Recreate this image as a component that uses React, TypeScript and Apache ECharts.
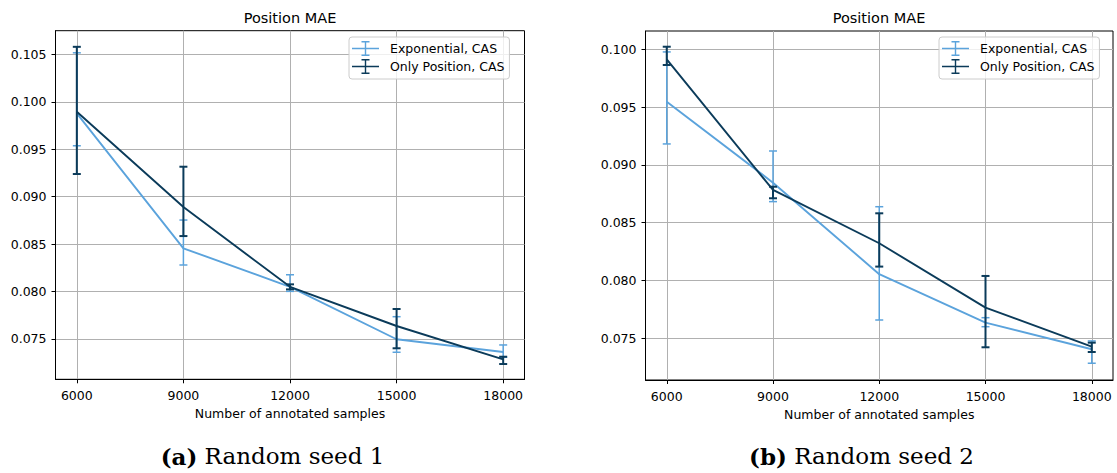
import React, { useEffect, useRef } from "react";
import * as echarts from "echarts";

const xSamples = [6000, 9000, 12000, 15000, 18000];
const yTicks1 = [0.075, 0.08, 0.085, 0.09, 0.095, 0.1, 0.105];
const yTicks2 = [0.075, 0.08, 0.085, 0.09, 0.095, 0.1];

const seriesNames = ["Exponential, CAS", "Only Position, CAS"];

// Random seed 1
const expMean1 = [0.09878, 0.08456, 0.0805, 0.07497, 0.07363];
const expLow1 = [0.09537, 0.0828, 0.08002, 0.0736, 0.07307];
const expHigh1 = [0.10517, 0.08754, 0.08177, 0.07735, 0.07437];
const posMean1 = [0.09895, 0.08891, 0.0805, 0.07637, 0.07286];
const posLow1 = [0.09239, 0.08585, 0.08023, 0.07402, 0.07236];
const posHigh1 = [0.1058, 0.09316, 0.08076, 0.07816, 0.07313];

// Random seed 2
const expMean2 = [0.09547, 0.08846, 0.08054, 0.07635, 0.07405];
const expLow2 = [0.09181, 0.08682, 0.07658, 0.076, 0.07284];
const expHigh2 = [0.09977, 0.0912, 0.08638, 0.07678, 0.07477];
const posMean2 = [0.09913, 0.08783, 0.08322, 0.07765, 0.07427];
const posLow2 = [0.09864, 0.08711, 0.0812, 0.07422, 0.07381];
const posHigh2 = [0.10022, 0.08811, 0.08581, 0.08039, 0.07462];

const LIGHT = "#5ba3dc";
const DARK = "#0b3b5a";
const FONT = "DejaVu Sans";
const FS = 12.5;

const ICON =
  "path://M0,6.8h27v1.4h-27z M12.8,0h1.4v15h-1.4z M9.5,0h8v1.4h-8z M9.5,13.6h8v1.4h-8z";

function errSeries(name: string, idx: number, low: number[], high: number[], color: string, width: number, z: number) {
  return {
    type: "custom",
    name,
    xAxisIndex: idx,
    yAxisIndex: idx,
    z,
    itemStyle: { color },
    data: xSamples.map((x, i) => [x, low[i], high[i]]),
    encode: { x: 0, y: [1, 2] },
    renderItem: (params: any, api: any) => {
      const x = api.value(0);
      const pLo = api.coord([x, api.value(1)]);
      const pHi = api.coord([x, api.value(2)]);
      const cw = 4;
      const style = { stroke: color, lineWidth: width, fill: null };
      return {
        type: "group",
        children: [
          { type: "line", shape: { x1: pLo[0], y1: pLo[1], x2: pHi[0], y2: pHi[1] }, style },
          { type: "line", shape: { x1: pLo[0] - cw, y1: pLo[1], x2: pLo[0] + cw, y2: pLo[1] }, style },
          { type: "line", shape: { x1: pHi[0] - cw, y1: pHi[1], x2: pHi[0] + cw, y2: pHi[1] }, style },
        ],
      };
    },
  };
}

function lineSeries(name: string, idx: number, mean: number[], color: string, width: number, z: number) {
  return {
    type: "line",
    name,
    xAxisIndex: idx,
    yAxisIndex: idx,
    z,
    symbol: "none",
    showSymbol: false,
    itemStyle: { color },
    lineStyle: { color, width },
    data: xSamples.map((x, i) => [x, mean[i]]),
  };
}

function xAxis(idx: number) {
  return {
    type: "value",
    gridIndex: idx,
    min: 5400,
    max: 18600,
    axisLine: { show: true, onZero: false, lineStyle: { color: "#000", width: 1 } },
    axisTick: { show: true, length: 4, customValues: xSamples, lineStyle: { color: "#000", width: 1 } },
    axisLabel: {
      customValues: xSamples,
      margin: 10,
      fontSize: FS,
      fontFamily: FONT,
      color: "#000",
      formatter: (v: number) => String(v),
    },
    splitLine: { show: true, lineStyle: { color: "#b0b0b0", width: 1 } },
    name: "Number of annotated samples",
    nameLocation: "middle",
    nameGap: 28,
    nameTextStyle: { fontSize: FS, fontFamily: FONT, color: "#000" },
  };
}

function yAxis(idx: number, min: number, max: number, ticks: number[]) {
  return {
    type: "value",
    gridIndex: idx,
    min,
    max,
    axisLine: { show: true, onZero: false, lineStyle: { color: "#000", width: 1 } },
    axisTick: { show: true, length: 4, customValues: ticks, lineStyle: { color: "#000", width: 1 } },
    axisLabel: {
      customValues: ticks,
      margin: 9,
      fontSize: FS,
      fontFamily: FONT,
      color: "#000",
      formatter: (v: number) => v.toFixed(3),
    },
    splitLine: { show: true, lineStyle: { color: "#b0b0b0", width: 1 } },
  };
}

function legend(left: number) {
  return {
    orient: "vertical",
    left,
    top: 37,
    data: seriesNames.map((n) => ({ name: n, icon: ICON })),
    itemWidth: 27,
    itemHeight: 15,
    itemGap: 3,
    padding: [4, 5, 5, 3],
    backgroundColor: "rgba(255,255,255,0.8)",
    borderColor: "#cccccc",
    borderWidth: 1,
    borderRadius: 3,
    selectedMode: false,
    textStyle: { fontSize: FS, fontFamily: FONT, color: "#000", padding: [0, 0, 0, 6] },
  };
}

export default function App() {
  const ref = useRef<HTMLDivElement>(null);
  useEffect(() => {
    if (!ref.current) return;
    const chart = echarts.init(ref.current, undefined, { renderer: "svg" });
    chart.setOption({
      animation: false,
      backgroundColor: "#fff",
      grid: [
        { left: 55.5, top: 30.7, width: 469, height: 348.6, show: true, borderColor: "#000", borderWidth: 1, containLabel: false, outerBoundsMode: "none" },
        { left: 645.5, top: 31, width: 467.5, height: 349, show: true, borderColor: "#000", borderWidth: 1, containLabel: false, outerBoundsMode: "none" },
      ],
      xAxis: [xAxis(0), xAxis(1)],
      yAxis: [yAxis(0, 0.07075, 0.1075, yTicks1), yAxis(1, 0.07139, 0.10158, yTicks2)],
      legend: [legend(349), legend(939)],
      series: [
        errSeries(seriesNames[0], 0, expLow1, expHigh1, LIGHT, 1.5, 3),
        errSeries(seriesNames[1], 0, posLow1, posHigh1, DARK, 2, 5),
        lineSeries(seriesNames[0], 0, expMean1, LIGHT, 1.9, 2),
        lineSeries(seriesNames[1], 0, posMean1, DARK, 1.9, 4),
        errSeries(seriesNames[0], 1, expLow2, expHigh2, LIGHT, 1.5, 3),
        errSeries(seriesNames[1], 1, posLow2, posHigh2, DARK, 2, 5),
        lineSeries(seriesNames[0], 1, expMean2, LIGHT, 1.9, 2),
        lineSeries(seriesNames[1], 1, posMean2, DARK, 1.9, 4),
      ],
      graphic: [
        { type: "text", x: 290, y: 17.5, style: { text: "Position MAE", font: `14.5px '${FONT}'`, fill: "#000", textAlign: "center", textVerticalAlign: "middle" } },
        { type: "text", x: 879, y: 17.5, style: { text: "Position MAE", font: `14.5px '${FONT}'`, fill: "#000", textAlign: "center", textVerticalAlign: "middle" } },
        {
          type: "text",
          x: 272.5,
          y: 456,
          style: {
            text: "{b|(a)} Random seed 1",
            font: "23px 'DejaVu Serif'",
            fill: "#000",
            textAlign: "center",
            textVerticalAlign: "middle",
            rich: { b: { fontWeight: "bold", fontSize: 23, fontFamily: "DejaVu Serif" } },
          },
        },
        {
          type: "text",
          x: 861.5,
          y: 456,
          style: {
            text: "{b|(b)} Random seed 2",
            font: "23px 'DejaVu Serif'",
            fill: "#000",
            textAlign: "center",
            textVerticalAlign: "middle",
            rich: { b: { fontWeight: "bold", fontSize: 23, fontFamily: "DejaVu Serif" } },
          },
        },
      ],
    });
    return () => chart.dispose();
  }, []);
  return (
    <div
      ref={ref}
      style={{ position: "absolute", left: 0, top: 0, width: 1117, height: 473, background: "#fff" }}
    />
  );
}
